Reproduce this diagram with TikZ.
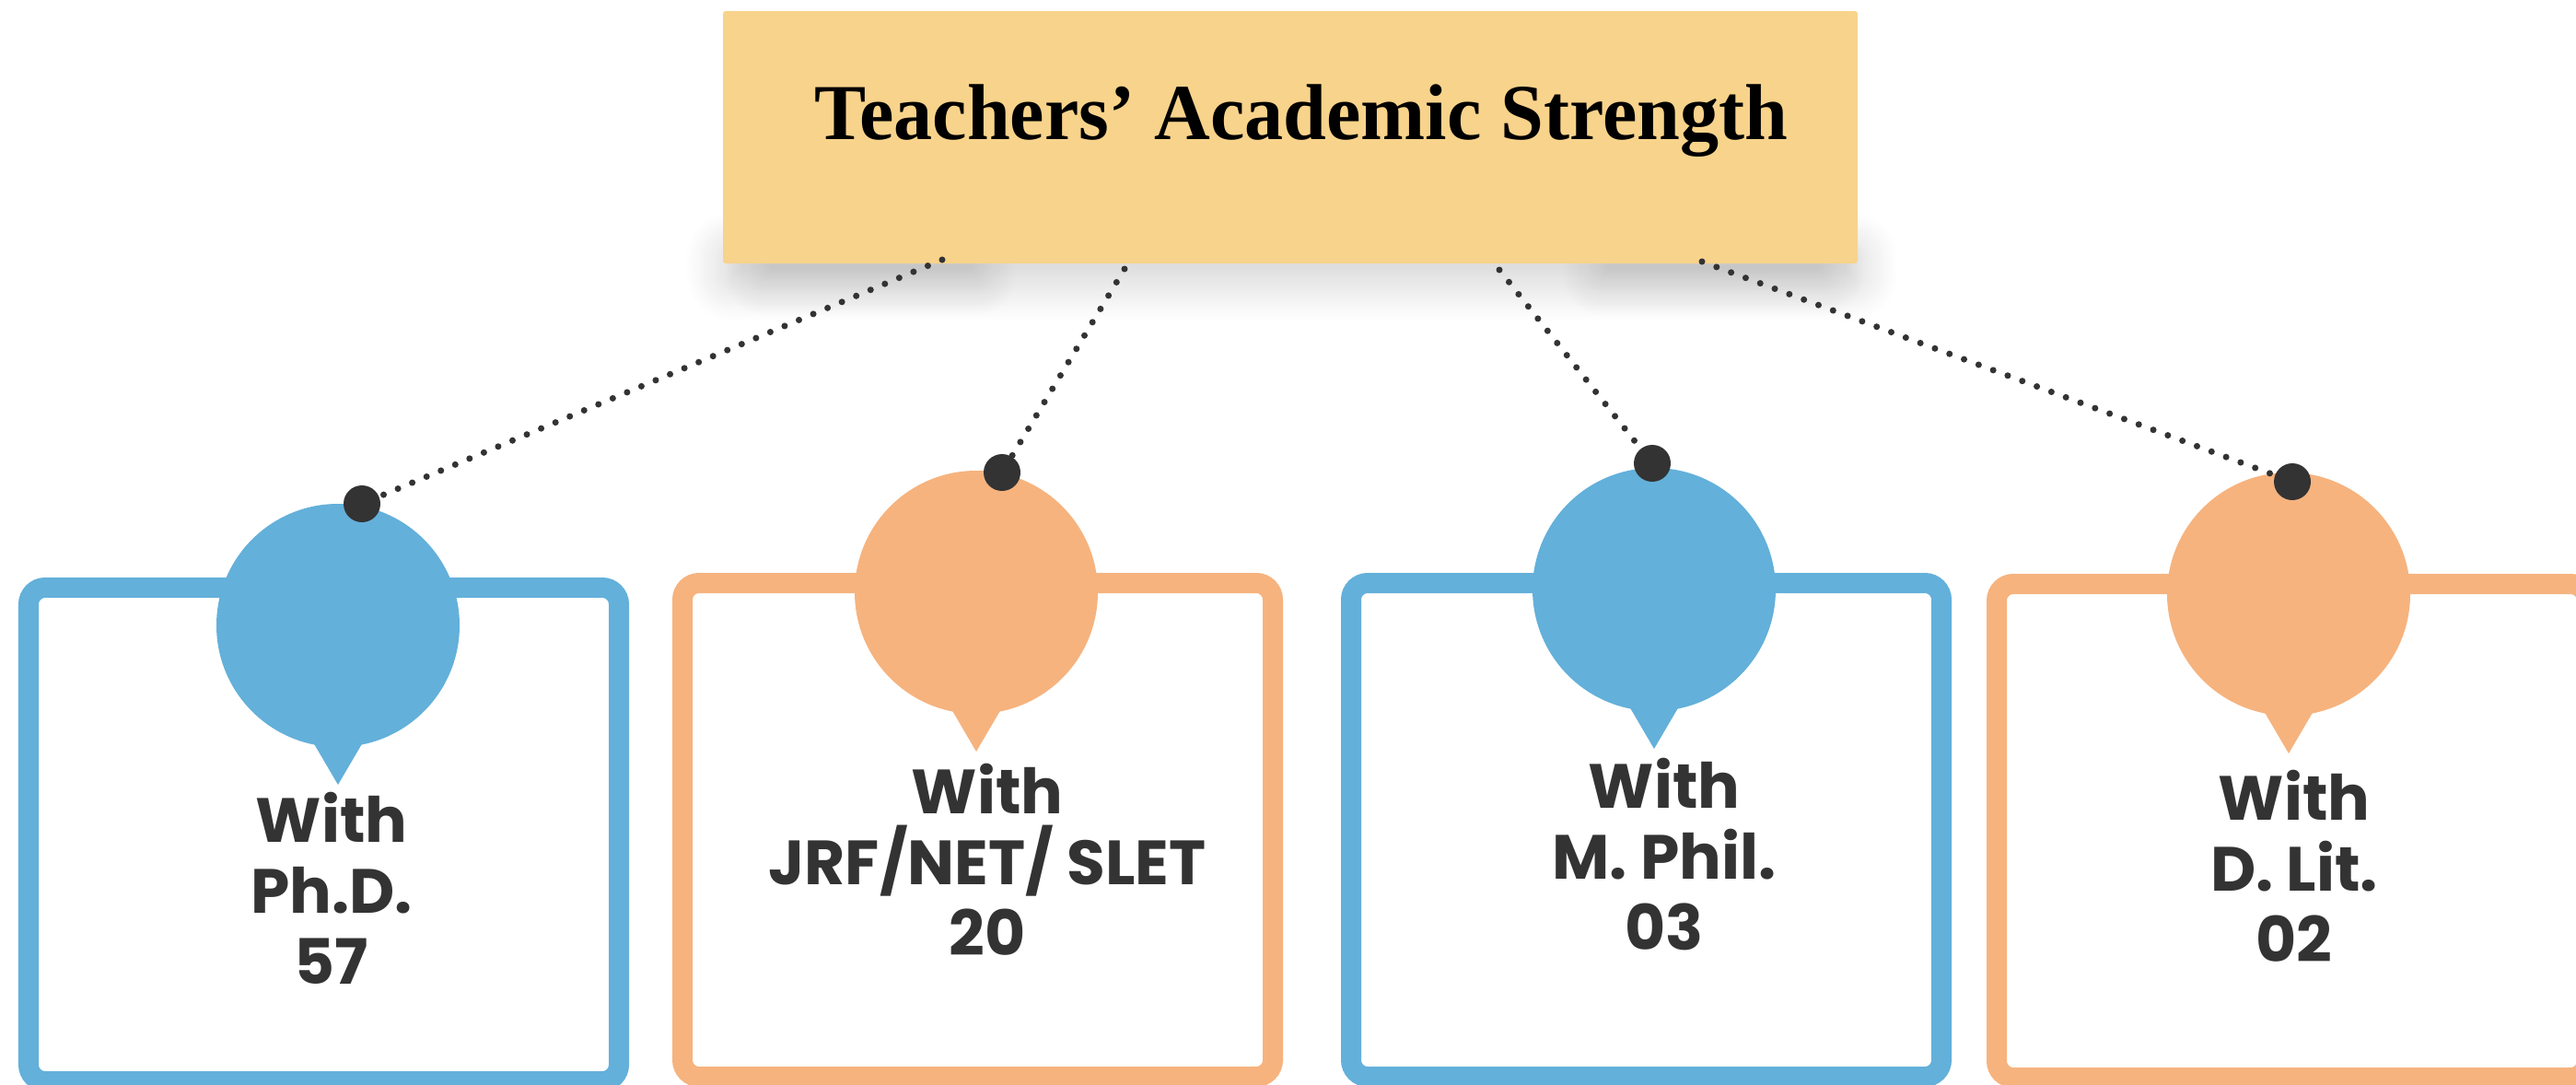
\documentclass[tikz,border=0pt]{standalone}
\usepackage{fontspec}
\usepackage{graphicx}
\usetikzlibrary{shapes,positioning,shadows.blur}

\newfontfamily\titlefont{Liberation Serif}
\newfontfamily\labelfont{Poppins}

\definecolor{titlefill}{HTML}{F8D38B}
\definecolor{phdblue}{HTML}{63B0DA}
\definecolor{netorange}{HTML}{F6B37E}
\definecolor{inkgray}{HTML}{333333}

\begin{document}
\begin{tikzpicture}[
    titlebox/.style={rectangle, fill=titlefill, minimum width=12.32cm, minimum height=2.74cm, inner sep=0, rounded corners=0.03cm, text height=0.62cm, text depth=0.58cm, font=\titlefont\bfseries\fontsize{24.5pt}{28pt}\selectfont},
    framebox/.style={rectangle, draw=#1, fill=white, line width=0.22cm, rounded corners=0.18cm, minimum width=6.41cm, minimum height=5.36cm, inner sep=0},
    bubble/.style={circle, fill=#1, minimum size=2.64cm, inner sep=0},
    knob/.style={circle, fill=inkgray, minimum size=0.4cm, inner sep=0},
    dotline/.style={draw=inkgray, line width=2pt, line cap=round, dash pattern=on 0pt off 4.8pt},
    boxtext/.style={anchor=base, align=center, text=inkgray, inner sep=0, font=\labelfont\bfseries\fontsize{19.3pt}{21.9pt}\selectfont}
]
\useasboundingbox (0,0) rectangle (27.97,-11.77);

% Frames
\node[framebox=phdblue] (phdbox) at (3.515,-9.06) {};
\node[framebox=netorange] (netbox) at (10.615,-9.01) {};
\node[framebox=phdblue] (mphilbox) at (17.875,-9.01) {};
\node[framebox=netorange] (dlitbox) at (24.885,-9.02) {};

% Bubbles
\node[bubble=phdblue] (phdbubble) at (3.67,-6.79) {};
\node[bubble=netorange] (netbubble) at (10.60,-6.43) {};
\node[bubble=phdblue] (mphilbubble) at (17.96,-6.40) {};
\node[bubble=netorange] (dlitbubble) at (24.85,-6.45) {};

% Bubble tails
\fill[phdblue] ([shift={(-0.34,-1.15)}]phdbubble.center) -- ([shift={(0,-1.73)}]phdbubble.center) -- ([shift={(0.34,-1.15)}]phdbubble.center) -- cycle;
\fill[netorange] ([shift={(-0.34,-1.15)}]netbubble.center) -- ([shift={(0,-1.73)}]netbubble.center) -- ([shift={(0.34,-1.15)}]netbubble.center) -- cycle;
\fill[phdblue] ([shift={(-0.34,-1.15)}]mphilbubble.center) -- ([shift={(0,-1.73)}]mphilbubble.center) -- ([shift={(0.34,-1.15)}]mphilbubble.center) -- cycle;
\fill[netorange] ([shift={(-0.34,-1.15)}]dlitbubble.center) -- ([shift={(0,-1.73)}]dlitbubble.center) -- ([shift={(0.34,-1.15)}]dlitbubble.center) -- cycle;

% Shadow under the title
\path[blur shadow={shadow xshift=0cm, shadow yshift=0cm, shadow blur radius=0.5cm, shadow blur steps=25, shadow opacity=22}] (7.95,-2.80) rectangle (20.10,-2.98);
\path[blur shadow={shadow xshift=0cm, shadow yshift=0cm, shadow blur radius=0.45cm, shadow blur steps=25, shadow opacity=18}] (8.3,-2.82) rectangle (10.6,-3.0);
\path[blur shadow={shadow xshift=0cm, shadow yshift=0cm, shadow blur radius=0.45cm, shadow blur steps=25, shadow opacity=18}] (17.4,-2.82) rectangle (19.8,-3.0);

% Title
\node[titlebox] (title) at (14.01,-1.49) {\hspace*{0.24cm}\scalebox{0.977}[1]{Teachers’ Academic Strength}};

% Line ends on the title
\coordinate (phdstart) at (10.23,-2.82);
\coordinate (netstart) at (12.21,-2.92);
\coordinate (mphilstart) at (16.28,-2.93);
\coordinate (dlitstart) at (18.48,-2.84);

% Knobs
\node[knob] (phddot) at (3.93,-5.47) {};
\node[knob] (netdot) at (10.88,-5.13) {};
\node[knob] (mphildot) at (17.94,-5.03) {};
\node[knob] (dlitdot) at (24.89,-5.23) {};

% Dotted links
\draw[dotline] (phdstart) -- (phddot);
\draw[dotline] (netstart) -- (netdot);
\draw[dotline] (mphilstart) -- (mphildot);
\draw[dotline] (dlitstart) -- (dlitdot);

% Labels (anchored on the last line)
\node[boxtext] (phdtext) at (3.60,-10.68) {With\\Ph.D.\\57};
\node[boxtext] (nettext) at (10.72,-10.37) {With\\JRF/NET/ SLET\\20};
\node[boxtext] (mphiltext) at (18.07,-10.31) {With\\M. Phil.\\03};
\node[boxtext] (dlittext) at (24.91,-10.44) {With\\D. Lit.\\02};

\end{tikzpicture}
\end{document}
